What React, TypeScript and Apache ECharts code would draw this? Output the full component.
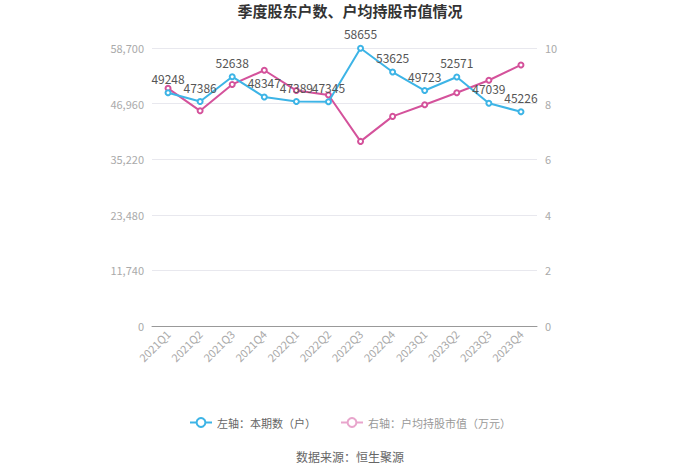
import React, { useEffect, useRef } from "react";
import * as echarts from "echarts";

const categories = ["2021Q1","2021Q2","2021Q3","2021Q4","2022Q1","2022Q2","2022Q3","2022Q4","2023Q1","2023Q2","2023Q3","2023Q4"];
const holders = [49248, 47386, 52638, 48347, 47389, 47345, 58655, 53625, 49723, 52571, 47039, 45226];
const avgValue = [8.55, 7.74, 8.69, 9.2, 8.47, 8.31, 6.64, 7.54, 7.96, 8.39, 8.84, 9.39];
const leftTicks = [0, 11740, 23480, 35220, 46960, 58700];

export default function App() {
  const ref = useRef<HTMLDivElement>(null);
  useEffect(() => {
    const chart = echarts.init(ref.current!, null, { renderer: "svg" });
    const font = "'Noto Sans CJK SC', 'Noto Sans', sans-serif";
    chart.setOption({
      animation: false,
      textStyle: { fontFamily: font },
      title: {
        text: "季度股东户数、户均持股市值情况",
        left: "center",
        top: 3,
        padding: 0,
        textStyle: { fontSize: 15, fontWeight: "bold", color: "#333", fontFamily: font },
      },
      legend: {
        top: 412,
        left: "center",
        itemGap: 24,
        itemWidth: 22,
        itemHeight: 11,
        textStyle: { color: "#666", fontSize: 11 },
        data: [
          { name: "左轴：本期数（户）" },
          { name: "右轴：户均持股市值（万元）", itemStyle: { color: "#e8a5cc" }, lineStyle: { color: "#e8a5cc" }, textStyle: { color: "#999" } },
        ],
      },
      graphic: [
        {
          type: "text",
          left: "center",
          top: 450,
          style: { text: "数据来源：恒生聚源", fill: "#666", fontSize: 12, fontFamily: font },
        },
      ],
      grid: { left: 152, right: 163, top: 48, bottom: 147 },
      xAxis: {
        type: "category",
        data: categories,
        boundaryGap: true,
        axisLine: { lineStyle: { color: "#999" } },
        axisTick: { alignWithLabel: true, lineStyle: { color: "#999" } },
        axisLabel: { rotate: 45, color: "#aaa", fontSize: 11, interval: 0, margin: 6 },
      },
      yAxis: [
        {
          type: "value",
          min: 0,
          max: leftTicks[leftTicks.length - 1],
          interval: leftTicks[1],
          axisLine: { show: false },
          axisTick: { show: false },
          axisLabel: { color: "#aaa", fontSize: 11, formatter: (v: number) => v.toLocaleString("en-US") },
          splitLine: { lineStyle: { color: "#e8e8ee" } },
        },
        {
          type: "value",
          min: 0,
          max: 10,
          interval: 2,
          axisLine: { show: false },
          axisTick: { show: false },
          axisLabel: { color: "#aaa", fontSize: 11 },
          splitLine: { show: false },
        },
      ],
      series: [
        {
          name: "左轴：本期数（户）",
          type: "line",
          data: holders,
          yAxisIndex: 0,
          symbol: "emptyCircle",
          symbolSize: 5,
          itemStyle: { color: "#3db4e6" },
          lineStyle: { width: 2, color: "#3db4e6" },
          label: { show: true, position: "top", color: "#555", fontSize: 12 },
          z: 3,
        },
        {
          name: "右轴：户均持股市值（万元）",
          type: "line",
          data: avgValue,
          yAxisIndex: 1,
          symbol: "emptyCircle",
          symbolSize: 5,
          itemStyle: { color: "#d4529b" },
          lineStyle: { width: 2, color: "#d4529b" },
          z: 2,
        },
      ],
    });
    return () => chart.dispose();
  }, []);
  return <div ref={ref} style={{ position: "absolute", left: 0, top: 0, width: 700, height: 473 }} />;
}
